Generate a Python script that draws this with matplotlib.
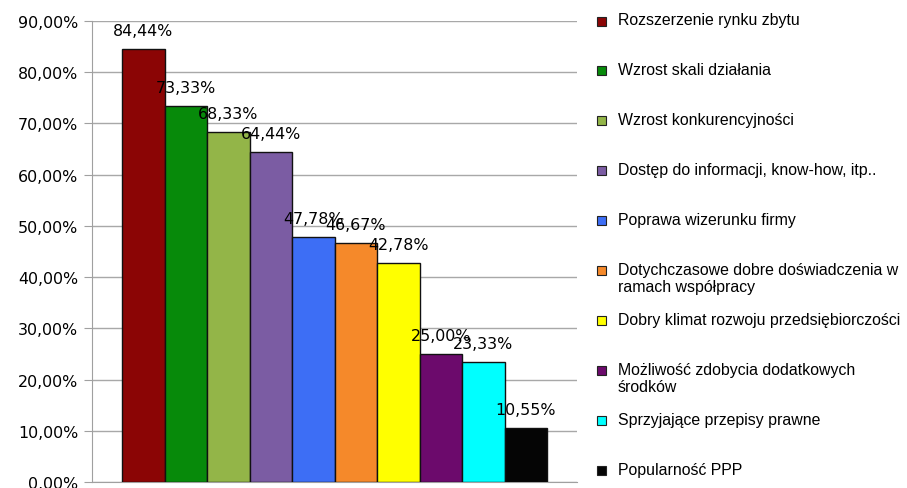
import numpy as np
import matplotlib.pyplot as plt
from matplotlib.patches import Rectangle

labels = [
    "Rozszerzenie rynku zbytu",
    "Wzrost skali działania",
    "Wzrost konkurencyjności",
    "Dostęp do informacji, know-how, itp..",
    "Poprawa wizerunku firmy",
    "Dotychczasowe dobre doświadczenia w\nramach współpracy",
    "Dobry klimat rozwoju przedsiębiorczości",
    "Możliwość zdobycia dodatkowych\nśrodków",
    "Sprzyjające przepisy prawne",
    "Popularność PPP",
]
values = [84.44, 73.33, 68.33, 64.44, 47.78, 46.67, 42.78, 25.00, 23.33, 10.55]
colors = ["#8b0505", "#078a0a", "#93b548", "#7b5ca3", "#3d6ef5",
          "#f5892a", "#ffff00", "#6c0a6c", "#00ffff", "#050505"]
yticks = np.arange(0, 91, 10)

W, H = 907, 489
fig = plt.figure(figsize=(W / 100, H / 100), dpi=100)
ax = fig.add_axes([92 / W, 1 - 483 / H, (577 - 92) / W, (483 - 22) / H])

x = np.arange(len(values))
ax.bar(x, values, width=1.0, color=colors, edgecolor="#111111", linewidth=1.0,
       zorder=3)

for xi, v in zip(x, values):
    ax.annotate(f"{v:.2f}%".replace(".", ","), (xi, v), xytext=(0, 8),
                textcoords="offset points", ha="center", va="bottom",
                fontsize=11.4, zorder=5)

margin = 30 / 42.5
ax.set_xlim(-0.5 - margin, len(values) - 0.5 + margin)
ax.set_ylim(0, 90)
ax.set_yticks(yticks)
ax.set_yticklabels([f"{t:.2f}%".replace(".", ",") for t in yticks],
                   fontsize=11.4)
ax.set_xticks([])
ax.yaxis.grid(True, color="#a8a8a8", linewidth=1.0, zorder=0)
ax.tick_params(axis="y", length=6, color="#a0a0a0", pad=4)
for side in ["top", "right"]:
    ax.spines[side].set_visible(False)
ax.spines["left"].set_color("#a0a0a0")
ax.spines["bottom"].set_color("#a0a0a0")

# legend drawn by hand to match the spacing of the original
for i, (lab, c) in enumerate(zip(labels, colors)):
    yc = 22 + i * 49.9
    fig.patches.append(Rectangle((597 / W, 1 - (yc + 4.5) / H), 9 / W, 9 / H,
                                 transform=fig.transFigure, facecolor=c,
                                 edgecolor="#222222", linewidth=0.8))
    fig.text(618 / W, 1 - (yc - 8.5) / H, lab, ha="left", va="top",
             fontsize=11.4, family="Liberation Sans", linespacing=1.15)

fig.savefig("out.png", dpi=100)
